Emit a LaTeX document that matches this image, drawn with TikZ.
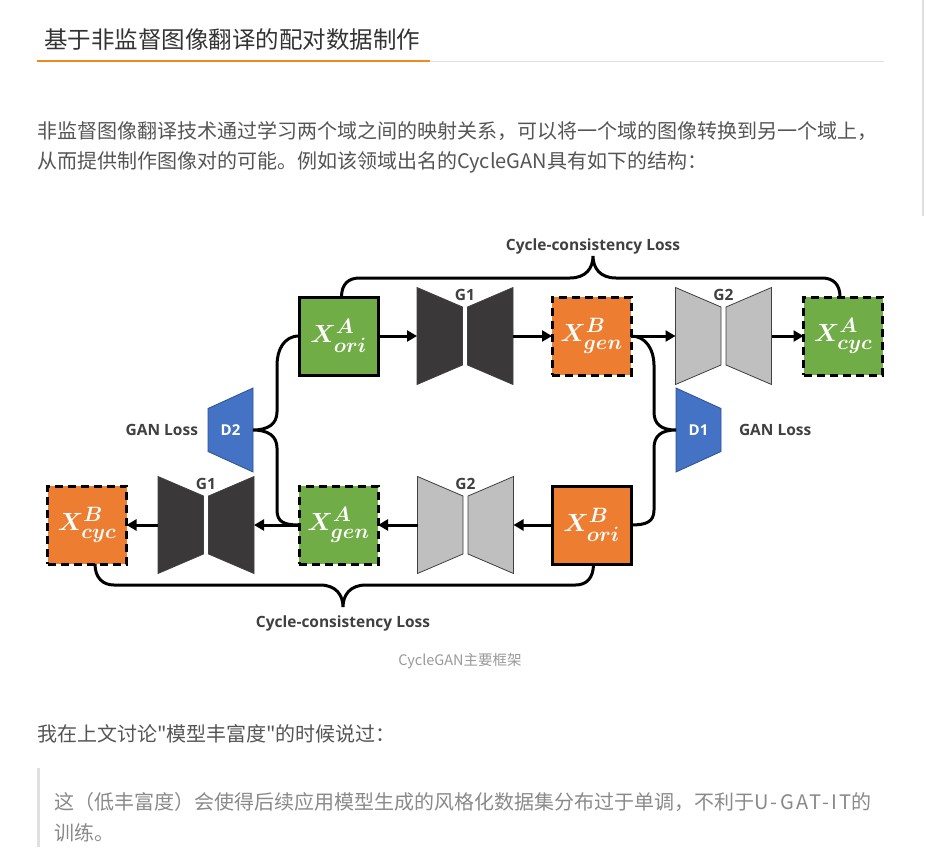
\documentclass[tikz,border=0pt]{standalone}
\usepackage{amsmath}
\usepackage{fontspec}
\newfontfamily\cjk{Noto Sans CJK SC}
\newfontfamily\labfont{Open Sans}
\DeclareMathSizes{28}{28}{21}{16}
\usetikzlibrary{
  arrows.meta,
  backgrounds,
  calc,
  positioning
}
\definecolor{cgHead}{HTML}{333333}
\definecolor{cgBody}{HTML}{555555}
\definecolor{cgQuote}{HTML}{8A8A8A}
\definecolor{cgCaption}{HTML}{999999}
\definecolor{cgRule}{HTML}{E0E0E0}
\definecolor{cgAccent}{HTML}{EE8A1F}
\definecolor{cgLabel}{HTML}{404040}
\definecolor{cgGreen}{HTML}{70AD47}
\definecolor{cgOrange}{HTML}{ED7D31}
\definecolor{cgBlue}{HTML}{4472C4}
\definecolor{cgBlueEdge}{HTML}{2F528F}
\definecolor{cgDark}{HTML}{3A3838}
\definecolor{cgLight}{HTML}{BFBFBF}
\definecolor{cgEdge}{HTML}{404040}
\tikzset{
  every node/.style={inner sep=0pt, outer sep=0pt},
  pagetext/.style={anchor=west, font=\cjk\fontsize{20}{24}\selectfont, text=cgBody},
  imgbox/.style={
    minimum width=79pt,
    minimum height=78pt,
    line width=3pt,
    draw=black,
    text=white,
    font=\fontsize{28}{32}\selectfont
  },
  solidbox/.style={imgbox},
  dashbox/.style={imgbox, dash pattern=on 8pt off 5pt},
  genslot/.style={minimum width=96pt, minimum height=97pt},
  discslot/.style={
    minimum width=45pt,
    minimum height=84pt,
    text=white,
    font=\labfont\bfseries\fontsize{15}{17}\selectfont
  },
  glabel/.style={font=\labfont\bfseries\fontsize{15.5}{17}\selectfont, text=cgLabel},
  flow/.style={-{Triangle[length=10pt,width=11pt]}, line width=3pt},
  bracelink/.style={line width=3pt},
  sidebrace/.style={line width=3pt}
}

\begin{document}
\begin{tikzpicture}[x=1pt,y=-1pt]
  \useasboundingbox (0,0) rectangle (926,862);
  \begin{scope}[on background layer]
    \fill[white] (0,0) rectangle (926,862);
  \end{scope}

  % page heading and text
  \node[anchor=west, font=\cjk\fontsize{23.5}{28}\selectfont, text=cgHead] (title) at (44,40)
    {基于非监督图像翻译的配对数据制作};
  \draw[cgRule, line width=1pt] (430,61) -- (884,61);
  \draw[cgAccent, line width=2.5pt] (37,61) -- (430,61);
  \draw[cgRule, line width=1.5pt] (923,0) -- (923,216);

  \node[pagetext] (parA) at (37,131)
    {非监督图像翻译技术通过学习两个域之间的映射关系，可以将一个域的图像转换到另一个域上，};
  \node[pagetext] (parB) at (37,162)
    {从而提供制作图像对的可能。例如该领域出名的CycleGAN具有如下的结构：};

  % image boxes
  \node[solidbox, fill=cgGreen] (aori) at (338.5,336) {$\boldsymbol{X^{A}_{ori}}$};
  \node[dashbox, fill=cgOrange] (bgen) at (591.5,336) {$\boldsymbol{X^{B}_{gen}}$};
  \node[dashbox, fill=cgGreen] (acyc) at (843,336) {$\boldsymbol{X^{A}_{cyc}}$};
  \node[dashbox, fill=cgOrange] (bcyc) at (87,525) {$\boldsymbol{X^{B}_{cyc}}$};
  \node[dashbox, fill=cgGreen] (agen) at (338.5,525) {$\boldsymbol{X^{A}_{gen}}$};
  \node[solidbox, fill=cgOrange] (bori) at (591.5,525) {$\boldsymbol{X^{B}_{ori}}$};

  % generators
  \node[genslot] (gtop1) at (465,336) {};
  \node[genslot] (gtop2) at (723.5,336) {};
  \node[genslot] (gbot1) at (206,525) {};
  \node[genslot] (gbot2) at (465.5,525) {};
  \foreach \g/\c in {gtop1/cgDark, gbot1/cgDark, gtop2/cgLight, gbot2/cgLight}{
    \filldraw[fill=\c, draw=cgEdge, line width=0.8pt]
      (\g.north west) -- ($(\g.center)+(-2.5,-29)$) -- ($(\g.center)+(-2.5,29)$)
      -- (\g.south west) -- cycle;
    \filldraw[fill=\c, draw=cgEdge, line width=0.8pt]
      (\g.north east) -- ($(\g.center)+(2.5,-29)$) -- ($(\g.center)+(2.5,29)$)
      -- (\g.south east) -- cycle;
  }
  \node[glabel, below=2pt of gtop1.north] (gtopLab1) {G1};
  \node[glabel, below=2pt of gtop2.north] (gtopLab2) {G2};
  \node[glabel, below=2pt of gbot1.north] (gbotLab1) {G1};
  \node[glabel, below=2pt of gbot2.north] (gbotLab2) {G2};

  % discriminators
  \node[discslot] (dtwo) at (230.5,430) {D2};
  \node[discslot] (done) at (698.5,430) {D1};
  \begin{scope}[on background layer]
    \filldraw[fill=cgBlue, draw=cgBlueEdge, line width=0.8pt]
      (dtwo.north east) -- (dtwo.south east) -- ($(dtwo.south west)+(0,-20.5)$)
      -- ($(dtwo.north west)+(0,20.5)$) -- cycle;
    \filldraw[fill=cgBlue, draw=cgBlueEdge, line width=0.8pt]
      (done.north west) -- (done.south west) -- ($(done.south east)+(0,-20.5)$)
      -- ($(done.north east)+(0,20.5)$) -- cycle;
  \end{scope}
  \node[glabel, left=10pt of dtwo] (ganLeft) {GAN Loss};
  \node[glabel, right=18pt of done] (ganRight) {GAN Loss};

  % translation flow
  \draw[flow] (aori) -- (gtop1);
  \draw[flow] (gtop1) -- (bgen);
  \draw[flow] (bgen) -- (gtop2);
  \draw[flow] (gtop2) -- (acyc);
  \draw[flow] (bori) -- (gbot2);
  \draw[flow] (gbot2) -- (agen);
  \draw[flow] (agen) -- (gbot1);
  \draw[flow] (gbot1) -- (bcyc);

  % cycle-consistency braces
  \coordinate (ccTop) at (593,256);
  \coordinate (ccBot) at (343,607);
  \draw[bracelink] ([xshift=3pt]aori.north)
    .. controls +(0,-13) and +(-11,0) .. ($(aori.north)+(21,-19)$)
    -- ($(ccTop)+(-23,22)$) .. controls +(16,0) and +(0,12) .. (ccTop)
    .. controls +(0,12) and +(-16,0) .. ($(ccTop)+(23,22)$)
    -- ($(acyc.north)+(-21,-19)$) .. controls +(11,0) and +(0,-13) .. ([xshift=-3pt]acyc.north);
  \draw[bracelink] ([xshift=8pt]bcyc.south)
    .. controls +(0,14) and +(-11,0) .. ($(bcyc.south)+(27,21)$)
    -- ($(ccBot)+(-23,-22)$) .. controls +(16,0) and +(0,-12) .. (ccBot)
    .. controls +(0,-12) and +(-16,0) .. ($(ccBot)+(23,-22)$)
    -- ($(bori.south)+(-16,21)$) .. controls +(11,0) and +(0,14) .. ([xshift=2pt]bori.south);
  \node[glabel, above=2pt of ccTop] (lossTop) {Cycle-consistency Loss};
  \node[glabel, below=9pt of ccBot] (lossBot) {Cycle-consistency Loss};

  % GAN braces
  \draw[sidebrace] (aori.west) .. controls +(-15,0) and +(0,-15) .. ($(dtwo.east)+(24,-65)$)
    -- ($(dtwo.east)+(24,-18)$) .. controls +(0,12) and +(15,0) .. (dtwo.east)
    .. controls +(15,0) and +(0,-12) .. ($(dtwo.east)+(24,18)$)
    -- ($(dtwo.east)+(24,80)$) .. controls +(0,12) and +(-15,0) .. (agen.west);
  \draw[sidebrace] (bgen.east) .. controls +(15,0) and +(0,-15) .. ($(done.west)+(-22,-65)$)
    -- ($(done.west)+(-22,-18)$) .. controls +(0,12) and +(-15,0) .. (done.west)
    .. controls +(-15,0) and +(0,-12) .. ($(done.west)+(-22,18)$)
    -- ($(done.west)+(-22,80)$) .. controls +(0,12) and +(15,0) .. (bori.east);

  % caption and following text
  \node[font=\cjk\fontsize{14.5}{17}\selectfont, text=cgCaption] (caption) at (460,661)
    {CycleGAN主要框架};
  \node[pagetext] (remark) at (37,734) {我在上文讨论"模型丰富度"的时候说过：};
  \draw[cgRule, line width=3pt] (38.5,768) -- (38.5,847);
  \node[pagetext, text=cgQuote] (quoteA) at (54,802)
    {这（低丰富度）会使得后续应用模型生成的风格化数据集分布过于单调，不利于{\addfontfeature{LetterSpace=12}U-GAT-IT}的};
  \node[pagetext, text=cgQuote] (quoteB) at (54,833) {训练。};
\end{tikzpicture}
\end{document}
